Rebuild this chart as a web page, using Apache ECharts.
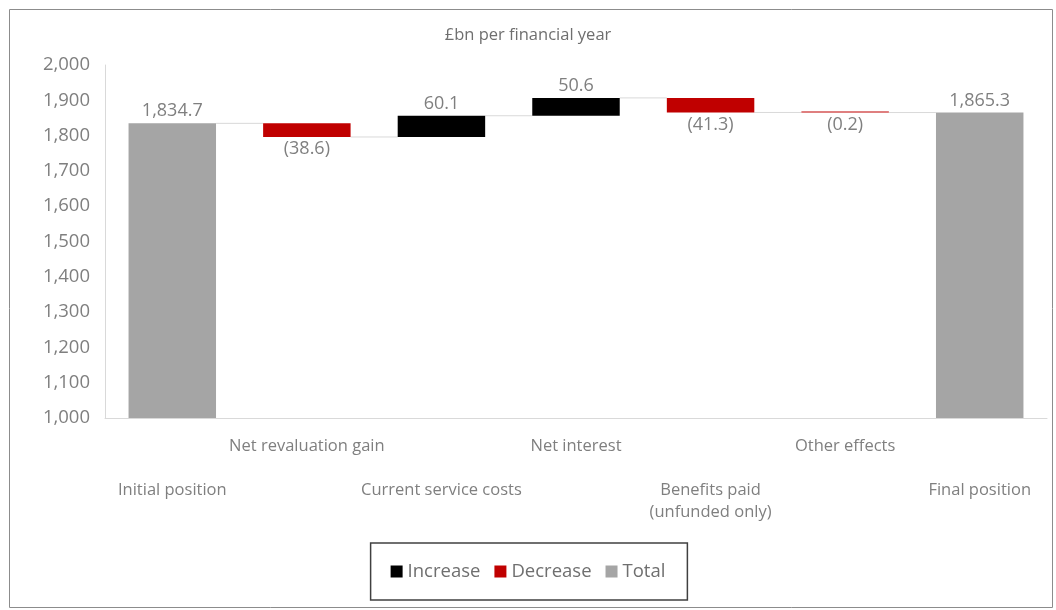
<!DOCTYPE html>
<html>
<head>
<meta charset="utf-8">
<script src="https://cdn.jsdelivr.net/npm/echarts@6/dist/echarts.min.js"></script>
<style>
html,body{margin:0;padding:0;background:#fff;}
#chart{width:1056px;height:610px;}
</style>
</head>
<body>
<div id="chart"></div>
<script>
// ---- data ----
const categories = ['Initial position', 'Net revaluation gain', 'Current service costs', 'Net interest', 'Benefits paid\n(unfunded only)', 'Other effects', 'Final position'];
const initialPosition = 1834.7;
const finalPosition = 1865.3;
const changes = [null, -38.6, 60.1, 50.6, -41.3, -0.2, null];
const yTicks = { min: 1000, max: 2000, interval: 100 };

// ---- build waterfall stacks ----
const baseData = [], incData = [], decData = [], totData = [], levels = [];
let level = initialPosition;
categories.forEach((c, i) => {
  if (i === 0) {
    baseData.push(0); incData.push('-'); decData.push('-'); totData.push(initialPosition);
  } else if (i === categories.length - 1) {
    baseData.push(0); incData.push('-'); decData.push('-'); totData.push(finalPosition);
    level = finalPosition;
  } else {
    const d = changes[i];
    if (d >= 0) {
      baseData.push(level); incData.push(d); decData.push('-'); totData.push('-');
    } else {
      baseData.push(level + d); incData.push('-'); decData.push(-d); totData.push('-');
    }
    level = level + d;
  }
  levels.push(+level.toFixed(1));
});
const connectorData = levels.slice(0, -1).map((v, i) => [i, v]);

const fmt = v => v.toLocaleString('en-GB', { minimumFractionDigits: 1, maximumFractionDigits: 1 });
const FONT = '"Open Sans", "Noto Sans", sans-serif';
const TXT = '#7f7f7f';
const BARW = 0.65;

const chart = echarts.init(document.getElementById('chart'), null, { renderer: 'canvas' });
chart.setOption({
  animation: false,
  textStyle: { fontFamily: FONT },
  title: {
    text: '£bn per financial year',
    left: 'center', top: 22,
    textStyle: { fontFamily: FONT, fontSize: 16.5, fontWeight: 'normal', color: '#6f6f6f' }
  },
  graphic: [{
    type: 'rect', left: 7, top: 7, z: -10, silent: true,
    shape: { width: 1043, height: 598 },
    style: { fill: 'none', stroke: '#8c8c8c', lineWidth: 1 }
  }],
  legend: {
    data: ['Increase', 'Decrease', 'Total'],
    bottom: 10, left: 'center',
    icon: 'rect', itemWidth: 12, itemHeight: 12, itemGap: 14,
    borderColor: '#404040', borderWidth: 1.5,
    padding: [19, 22, 19, 20],
    textStyle: { fontFamily: FONT, fontSize: 18.5, color: '#6f6f6f' }
  },
  grid: { left: 105, right: 9, top: 65, bottom: 192, containLabel: false },
  xAxis: {
    type: 'category', data: categories,
    axisLine: { show: true, lineStyle: { color: '#d9d9d9' } },
    axisTick: { show: false },
    axisLabel: {
      interval: 0, color: TXT, fontSize: 16.5, fontFamily: FONT, lineHeight: 22, margin: 17,
      formatter: (v, i) => (i % 2 === 0 ? '\n\n' : '') + v
    }
  },
  yAxis: {
    type: 'value', min: yTicks.min, max: yTicks.max, interval: yTicks.interval,
    axisLine: { show: true, lineStyle: { color: '#d9d9d9' } },
    axisTick: { show: false },
    splitLine: { show: false },
    axisLabel: {
      color: TXT, fontSize: 18.5, fontFamily: FONT, margin: 15,
      formatter: v => v.toLocaleString('en-GB')
    }
  },
  series: [
    {
      name: 'base', type: 'bar', stack: 'w', data: baseData, barWidth: (BARW * 100) + '%',
      itemStyle: { color: 'transparent' }, emphasis: { disabled: true }, silent: true
    },
    {
      name: 'Increase', type: 'bar', stack: 'w', data: incData,
      itemStyle: { color: '#000000' },
      label: { show: true, position: 'top', distance: 3, color: TXT, fontSize: 18, fontFamily: FONT,
               formatter: p => fmt(p.value) }
    },
    {
      name: 'Decrease', type: 'bar', stack: 'w', data: decData, barMinHeight: 1,
      itemStyle: { color: '#c00000' },
      label: { show: true, position: 'bottom', distance: 3, color: TXT, fontSize: 18, fontFamily: FONT,
               formatter: p => '(' + fmt(p.value) + ')' }
    },
    {
      name: 'Total', type: 'bar', stack: 'w', data: totData,
      itemStyle: { color: '#a5a5a5' },
      label: { show: true, position: 'top', distance: 3, color: TXT, fontSize: 18, fontFamily: FONT,
               formatter: p => fmt(p.value) }
    },
    {
      name: 'connector', type: 'custom', data: connectorData, silent: true, z: 1,
      renderItem: (params, api) => {
        const p = api.coord([api.value(0), api.value(1)]);
        const w = api.size([1, 0])[0];
        const x1 = p[0] + w * BARW / 2;
        const x2 = p[0] + w - w * BARW / 2;
        return { type: 'line', shape: { x1: x1, y1: p[1], x2: x2, y2: p[1] },
                 style: { stroke: '#d9d9d9', lineWidth: 1 } };
      }
    }
  ]
});
</script>
</body>
</html>
